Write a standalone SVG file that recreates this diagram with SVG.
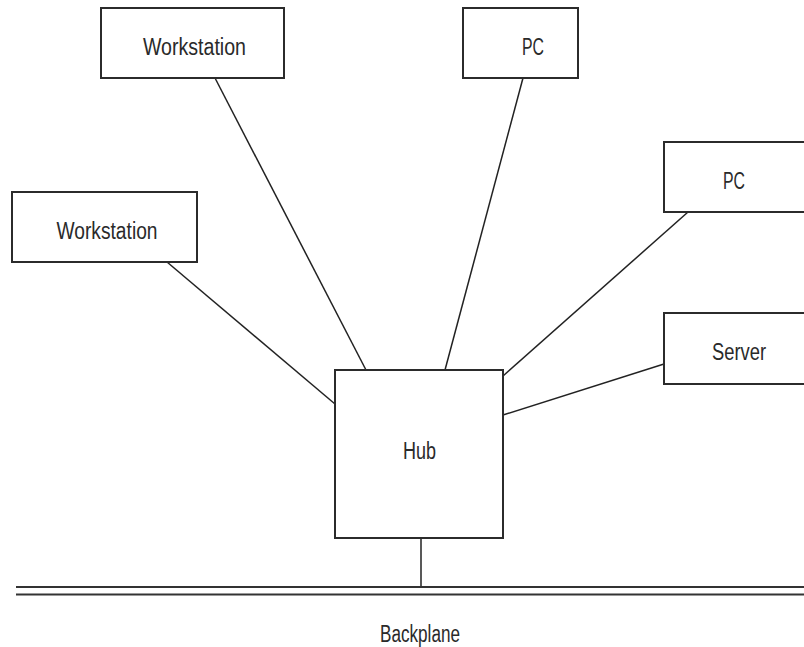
<svg xmlns="http://www.w3.org/2000/svg" width="804" height="647" viewBox="0 0 804 647">
  <style>
    .box { fill: #ffffff; stroke: #2b2b2b; stroke-width: 2; }
    .link { stroke: #222222; stroke-width: 1.5; fill: none; }
    .bus { stroke: #333333; stroke-width: 2; fill: none; }
    .label { font-family: "Liberation Sans", Arial, sans-serif; font-size: 23.5px; fill: #2a2a2a; text-anchor: middle; }
  </style>
  <rect width="804" height="647" fill="#ffffff"/>

  <!-- connectors -->
  <g id="connectors">
    <line class="link" x1="215" y1="78" x2="366" y2="370"/>
    <line class="link" x1="523" y1="78" x2="445" y2="370"/>
    <line class="link" x1="167" y1="262" x2="335" y2="404"/>
    <line class="link" x1="688" y1="212" x2="503" y2="376"/>
    <line class="link" x1="664" y1="364" x2="503" y2="415"/>
    <line class="link" x1="421" y1="538" x2="421" y2="587"/>
    <!-- backplane bus -->
    <line class="bus" x1="16" y1="587" x2="804" y2="587"/>
    <line class="bus" x1="16" y1="594.5" x2="804" y2="594.5"/>
  </g>

  <g id="workstation-top">
    <rect class="box" x="101" y="8" width="183" height="70"/>
    <text class="label" x="194.5" y="55" textLength="103" lengthAdjust="spacingAndGlyphs">Workstation</text>
  </g>

  <g id="pc-top">
    <rect class="box" x="463" y="8" width="115" height="70"/>
    <text class="label" x="533" y="54.5" textLength="22" lengthAdjust="spacingAndGlyphs">PC</text>
  </g>

  <g id="pc-right">
    <rect class="box" x="664" y="142" width="150" height="70"/>
    <text class="label" x="734" y="188.5" textLength="22" lengthAdjust="spacingAndGlyphs">PC</text>
  </g>

  <g id="workstation-left">
    <rect class="box" x="12" y="192" width="185" height="70"/>
    <text class="label" x="107" y="239" textLength="101" lengthAdjust="spacingAndGlyphs">Workstation</text>
  </g>

  <g id="server">
    <rect class="box" x="664" y="313" width="150" height="71"/>
    <text class="label" x="739" y="360" textLength="54" lengthAdjust="spacingAndGlyphs">Server</text>
  </g>

  <g id="hub">
    <rect class="box" x="335" y="370" width="168" height="168"/>
    <text class="label" x="419.5" y="459" textLength="33" lengthAdjust="spacingAndGlyphs">Hub</text>
  </g>

  <g id="backplane">
    <text class="label" x="420" y="641.5" textLength="80" lengthAdjust="spacingAndGlyphs">Backplane</text>
  </g>
</svg>
